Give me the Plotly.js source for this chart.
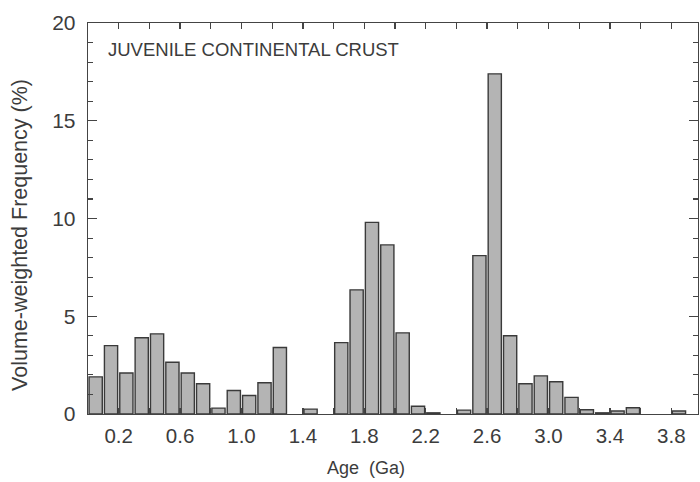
<!DOCTYPE html>
<html>
<head>
<meta charset="utf-8">
<script src="https://cdn.plot.ly/plotly-3.0.1.min.js"></script>
<style>html,body{margin:0;padding:0;background:#fff;}#chart{width:700px;height:482px;}</style>
</head>
<body>
<div id="chart"></div>
<script>
// Bin centres (Ga), 0.1 Ga bins
const ageBins = [0.05,0.15,0.25,0.35,0.45,0.55,0.65,0.75,0.85,0.95,1.05,1.15,1.25,1.45,1.65,1.75,1.85,1.95,2.05,2.15,2.25,2.45,2.55,2.65,2.75,2.85,2.95,3.05,3.15,3.25,3.35,3.45,3.55,3.85];
// Volume-weighted frequency (%)
const frequency = [1.9,3.5,2.1,3.9,4.1,2.65,2.1,1.55,0.3,1.2,0.95,1.6,3.4,0.25,3.65,6.35,9.8,8.65,4.15,0.4,0.06,0.2,8.1,17.4,4.0,1.55,1.95,1.65,0.85,0.22,0.06,0.15,0.32,0.15];
const xTickVals = [0.2,0.4,0.6,0.8,1.0,1.2,1.4,1.6,1.8,2.0,2.2,2.4,2.6,2.8,3.0,3.2,3.4,3.6,3.8];
const xTickText = ["0.2","","0.6","","1.0","","1.4","","1.8","","2.2","","2.6","","3.0","","3.4","","3.8"];
const yTickVals = [0,5,10,15,20];
const yTickText = ["0","5","10","15","20"];

const ink = '#444';
const font = {family: 'Liberation Sans, Arial, sans-serif', color: '#3c3c3c'};

Plotly.newPlot('chart', [{
  type: 'bar',
  x: ageBins,
  y: frequency,
  width: 0.086,
  marker: {color: '#b4b4b4', line: {color: '#3a3a3a', width: 1.4}},
  hoverinfo: 'x+y'
}], {
  width: 700, height: 482,
  margin: {l: 88, r: 2, t: 23, b: 68},
  paper_bgcolor: '#fff', plot_bgcolor: '#fff',
  showlegend: false,
  font: Object.assign({size: 20}, font),
  xaxis: {
    range: [0, 3.974], showgrid: false, zeroline: false,
    showline: true, linecolor: ink, linewidth: 1.3, mirror: 'allticks',
    ticks: 'inside', ticklen: 6, tickwidth: 1.3, tickcolor: ink,
    tickmode: 'array', tickvals: xTickVals, ticktext: xTickText,
    tickfont: Object.assign({size: 20.5}, font),
    ticklabelstandoff: 3,
    automargin: false
  },
  yaxis: {
    range: [0, 20], showgrid: false, zeroline: false,
    showline: true, linecolor: ink, linewidth: 1.3, mirror: 'allticks',
    ticks: 'inside', ticklen: 9, tickwidth: 1.3, tickcolor: ink,
    tickmode: 'array', tickvals: yTickVals, ticktext: yTickText,
    minor: {dtick: 1, ticks: 'inside', ticklen: 5, tickwidth: 1.1, tickcolor: ink},
    tickfont: Object.assign({size: 21}, font),
    ticklabelstandoff: 7,
    automargin: false
  },
  annotations: [{
    xref: 'paper', yref: 'paper', x: 0.03, y: 0.931, xanchor: 'left', yanchor: 'middle',
    text: 'JUVENILE CONTINENTAL CRUST', showarrow: false,
    font: Object.assign({size: 18.5}, font)
  }, {
    xref: 'paper', yref: 'paper', x: 0.456, y: -0.138, xanchor: 'center', yanchor: 'middle',
    text: 'Age  (Ga)', showarrow: false,
    font: Object.assign({size: 18}, font)
  }, {
    xref: 'paper', yref: 'paper', x: -0.1115, y: 0.458, xanchor: 'center', yanchor: 'middle',
    text: 'Volume-weighted Frequency (%)', showarrow: false, textangle: -90,
    font: Object.assign({size: 21.5}, font)
  }]
}, {staticPlot: true});
</script>
</body>
</html>
